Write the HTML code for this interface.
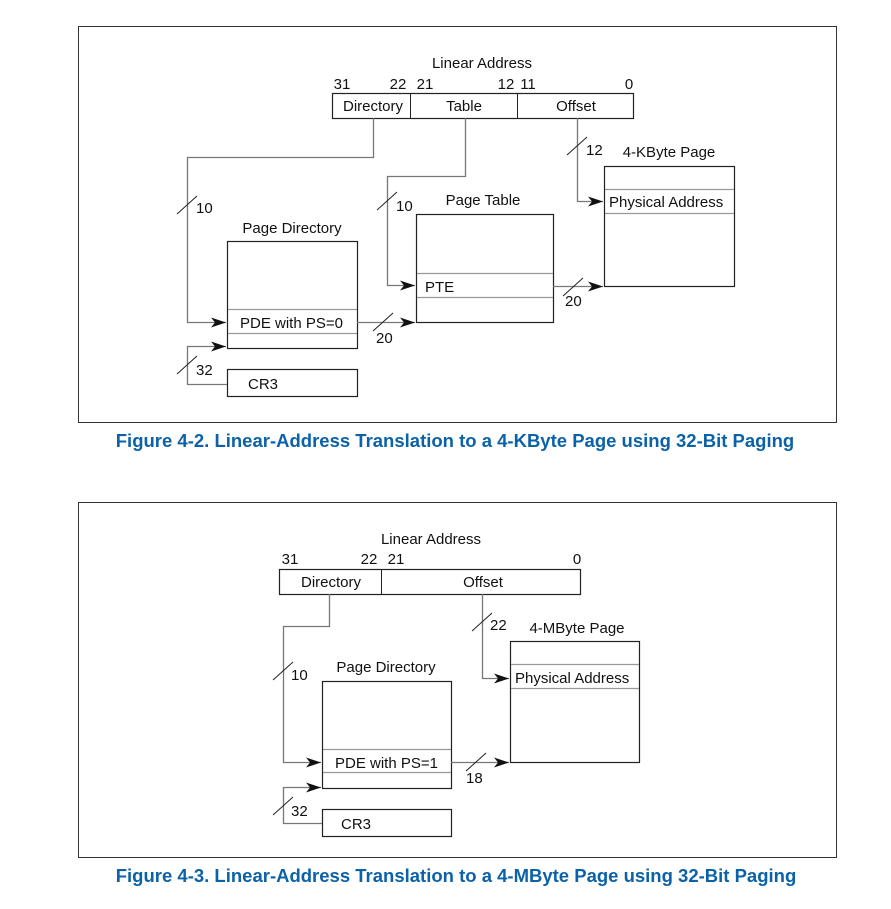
<!DOCTYPE html>
<html><head><meta charset="utf-8"><style>
html,body{margin:0;padding:0;background:#fff;}
svg{display:block;}
text{font-family:"Liberation Sans",sans-serif;font-size:15px;fill:#111;}
.cap{font-family:"Liberation Sans",sans-serif;font-size:18.5px;font-weight:bold;fill:#0b62a8;}
.b{fill:#fff;stroke:#222;stroke-width:1.2;}
.g{stroke:#999;stroke-width:1.2;fill:none;}
.c{stroke:#777;stroke-width:1.3;fill:none;}
.s{stroke:#222;stroke-width:1;}
</style></head><body>
<svg width="891" height="909" viewBox="0 0 891 909">
<defs>
<marker id="a" markerWidth="16" markerHeight="10" refX="15" refY="5" orient="auto" markerUnits="userSpaceOnUse">
<path d="M0,0 L15,5 L0,10 L4,5 Z" fill="#111"/>
</marker>
</defs>
<!-- Figure 1 -->
<rect x="78.5" y="26.5" width="758" height="396" fill="none" stroke="#333" stroke-width="1"/>
<text x="482" y="68" text-anchor="middle">Linear Address</text>
<text x="342" y="89" text-anchor="middle">31</text>
<text x="398" y="89" text-anchor="middle">22</text>
<text x="425" y="89" text-anchor="middle">21</text>
<text x="506" y="89" text-anchor="middle">12</text>
<text x="528" y="89" text-anchor="middle">11</text>
<text x="629" y="89" text-anchor="middle">0</text>
<rect class="b" x="332.5" y="93.5" width="301" height="25"/>
<line class="s" x1="410.5" y1="93" x2="410.5" y2="118"/>
<line class="s" x1="517.5" y1="93" x2="517.5" y2="118"/>
<text x="373" y="111" text-anchor="middle">Directory</text>
<text x="464" y="111" text-anchor="middle">Table</text>
<text x="576" y="111" text-anchor="middle">Offset</text>

<polyline class="c" points="373.5,118 373.5,157.5 187.5,157.5 187.5,322.5 226,322.5" marker-end="url(#a)"/>
<line class="s" x1="177" y1="214" x2="197" y2="196"/>
<text x="196" y="213">10</text>

<text x="292" y="233" text-anchor="middle">Page Directory</text>
<rect class="b" x="227.5" y="241.5" width="130" height="107"/>
<line class="g" x1="228" y1="309.5" x2="357" y2="309.5"/>
<line class="g" x1="228" y1="333.5" x2="357" y2="333.5"/>
<text x="240" y="328">PDE with PS=0</text>

<rect class="b" x="227.5" y="369.5" width="130" height="27"/>
<text x="248" y="389">CR3</text>
<polyline class="c" points="227,384.5 187.5,384.5 187.5,346.5 226,346.5" marker-end="url(#a)"/>
<line class="s" x1="177" y1="374" x2="197" y2="356"/>
<text x="196" y="375">32</text>

<polyline class="c" points="357,322.5 415,322.5" marker-end="url(#a)"/>
<line class="s" x1="373" y1="331" x2="393" y2="313"/>
<text x="376" y="343">20</text>

<text x="483" y="205" text-anchor="middle">Page Table</text>
<rect class="b" x="416.5" y="214.5" width="137" height="108"/>
<line class="g" x1="417" y1="273.5" x2="553" y2="273.5"/>
<line class="g" x1="417" y1="297.5" x2="553" y2="297.5"/>
<text x="425" y="292">PTE</text>

<polyline class="c" points="465.5,118 465.5,176.5 387.5,176.5 387.5,285.5 415,285.5" marker-end="url(#a)"/>
<line class="s" x1="377" y1="210" x2="397" y2="192"/>
<text x="396" y="211">10</text>

<polyline class="c" points="553,286.5 603,286.5" marker-end="url(#a)"/>
<line class="s" x1="563" y1="296" x2="583" y2="278"/>
<text x="565" y="306">20</text>

<text x="669" y="157" text-anchor="middle">4-KByte Page</text>
<rect class="b" x="604.5" y="166.5" width="130" height="120"/>
<line class="g" x1="605" y1="189.5" x2="734" y2="189.5"/>
<line class="g" x1="605" y1="213.5" x2="734" y2="213.5"/>
<text x="609" y="207">Physical Address</text>

<polyline class="c" points="577.5,118 577.5,201.5 603,201.5" marker-end="url(#a)"/>
<line class="s" x1="567" y1="155" x2="587" y2="137"/>
<text x="586" y="155">12</text>

<text class="cap" x="455" y="447" text-anchor="middle">Figure 4-2.  Linear-Address Translation to a 4-KByte Page using 32-Bit Paging</text>

<!-- Figure 2 -->
<rect x="78.5" y="502.5" width="758" height="355" fill="none" stroke="#333" stroke-width="1"/>
<text x="431" y="544" text-anchor="middle">Linear Address</text>
<text x="290" y="564" text-anchor="middle">31</text>
<text x="369" y="564" text-anchor="middle">22</text>
<text x="396" y="564" text-anchor="middle">21</text>
<text x="577" y="564" text-anchor="middle">0</text>
<rect class="b" x="279.5" y="569.5" width="301" height="25"/>
<line class="s" x1="381.5" y1="569" x2="381.5" y2="594"/>
<text x="331" y="587" text-anchor="middle">Directory</text>
<text x="483" y="587" text-anchor="middle">Offset</text>

<polyline class="c" points="329.5,594 329.5,626.5 283.5,626.5 283.5,762.5 321,762.5" marker-end="url(#a)"/>
<line class="s" x1="273" y1="680" x2="293" y2="662"/>
<text x="291" y="680">10</text>

<text x="386" y="672" text-anchor="middle">Page Directory</text>
<rect class="b" x="322.5" y="681.5" width="129" height="107"/>
<line class="g" x1="323" y1="749.5" x2="451" y2="749.5"/>
<line class="g" x1="323" y1="772.5" x2="451" y2="772.5"/>
<text x="335" y="768">PDE with PS=1</text>

<rect class="b" x="322.5" y="809.5" width="129" height="27"/>
<text x="341" y="829">CR3</text>
<polyline class="c" points="322,823.5 283.5,823.5 283.5,787.5 321,787.5" marker-end="url(#a)"/>
<line class="s" x1="273" y1="815" x2="293" y2="797"/>
<text x="291" y="816">32</text>

<polyline class="c" points="451,762.5 509,762.5" marker-end="url(#a)"/>
<line class="s" x1="466" y1="771" x2="486" y2="753"/>
<text x="466" y="783">18</text>

<text x="577" y="633" text-anchor="middle">4-MByte Page</text>
<rect class="b" x="510.5" y="641.5" width="129" height="121"/>
<line class="g" x1="511" y1="664.5" x2="639" y2="664.5"/>
<line class="g" x1="511" y1="688.5" x2="639" y2="688.5"/>
<text x="515" y="683">Physical Address</text>

<polyline class="c" points="482.5,594 482.5,678.5 509,678.5" marker-end="url(#a)"/>
<line class="s" x1="472" y1="631" x2="492" y2="613"/>
<text x="490" y="630">22</text>

<text class="cap" x="456" y="882" text-anchor="middle">Figure 4-3.  Linear-Address Translation to a 4-MByte Page using 32-Bit Paging</text>
</svg>
</body></html>
